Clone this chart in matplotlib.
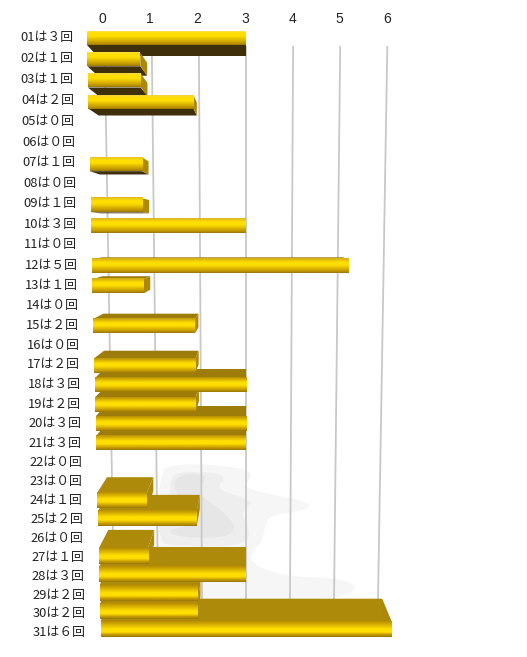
#!/usr/bin/env python3
import matplotlib
matplotlib.use('Agg')  # no GUI backend
import matplotlib.pyplot as plt
import numpy as np
from matplotlib.colors import to_rgb
from matplotlib.patches import Polygon

plt.rcParams['font.family'] = ['Noto Sans CJK JP', 'DejaVu Sans']

# data
days = ["%02d" % d for d in range(1, 32)]
counts = [3, 1, 1, 2, 0, 0, 1, 0, 1, 3, 0, 5, 1, 0, 2, 0,
          2, 3, 2, 3, 3, 0, 0, 1, 2, 0, 1, 3, 2, 2, 6]
value_ticks = [0, 1, 2, 3, 4, 5, 6]

# gray smudge behind the bars (decoration on the back wall)
smudge_outer = [(158, 472), (173, 465), (203, 464), (240, 468), (253, 473), (247, 483),
                (245, 488), (273, 495), (300, 500), (313, 506), (297, 512), (270, 515),
                (265, 525), (263, 540), (250, 555), (253, 563), (270, 572), (297, 577),
                (337, 578), (358, 586), (347, 595), (330, 599), (247, 600), (158, 600)]
smudge_mid = [(170, 478), (180, 472), (210, 472), (227, 477), (215, 488), (240, 497),
              (254, 503), (240, 512), (250, 530), (247, 542), (223, 547), (173, 545),
              (160, 543), (158, 505), (170, 498)]
smudge_inner = [(172, 482), (185, 473), (208, 475), (200, 488), (203, 498), (222, 510),
                (237, 528), (227, 537), (193, 538), (173, 535), (168, 530), (193, 525),
                (180, 500)]

# fake perspective, everything in pixels of the final image
X_FIX = 246      # value 3 stays at the same x in all planes
HORIZON = 228
DEPTH_Y = 0.058
DEPTH_X = 0.935


def front_x(value, i):
    scale = 53 - 4.5 * i / 30
    return X_FIX + (value - 3) * scale


def wall_x(value, y):
    scale = 47.1 - (y - 47) * 3.1 / 553
    return X_FIX + (value - 3) * scale


def bar_bottom(i):
    return 45 + 21.3 * i - 0.108 * i * (i - 1) / 2


def label_y(i):
    return 37 + 21.2 * i - 0.094 * i * (i - 1) / 2


def back_point(x, y):
    return X_FIX + (x - X_FIX) * DEPTH_X, y + (HORIZON - y) * DEPTH_Y


def smooth(points, rounds=3):
    # corner cutting so the smudge has no hard corners
    pts = np.array(points, dtype=float)
    for _ in range(rounds):
        nxt = np.roll(pts, -1, axis=0)
        pts = np.column_stack([0.75 * pts + 0.25 * nxt, 0.25 * pts + 0.75 * nxt]).reshape(-1, 2)
    return pts


def face_gradient(i):
    t = i / 30
    mix = min(1, t * 1.8)
    peak = 0.25 + 0.35 * t
    top = np.array(to_rgb('#FFE24A')) * (1 - mix) + np.array(to_rgb('#B88E00')) * mix
    stops = [0, peak - 0.1, peak + 0.1, 0.85, 0.95, 1]
    colors = [top, to_rgb('#FFDE00'), to_rgb('#FFDE00'), to_rgb('#C49A00'), to_rgb('#AC8600'), to_rgb('#94760F')]
    pos = np.linspace(0, 1, 40)
    return np.array([[np.interp(p, stops, [c[k] for c in colors]) for k in range(3)] for p in pos])[:, None, :]


def draw_bar(ax, i, value, z):
    bottom = bar_bottom(i)
    top = bottom - (13.5 + 2 * i / 30)
    left = front_x(0, i)
    right = front_x(value, i)

    # top or bottom face, whichever the viewer can see
    if top > HORIZON:
        bl, br = back_point(left, top), back_point(right, top)
        shade = '#AE8A0A' if i >= 22 else '#9E7C0A'
        ax.add_patch(Polygon([(left, top), (right, top), br, bl], fc=shade, ec='none', zorder=z))
    elif bottom < HORIZON:
        bl, br = back_point(left, bottom), back_point(right, bottom)
        ax.add_patch(Polygon([(left, bottom), (right, bottom), br, bl], fc='#3F2F0A', ec='none', zorder=z))

    # right end
    rt, rb = back_point(right, top), back_point(right, bottom)
    ax.add_patch(Polygon([(right, top), rt, rb, (right, bottom)], fc='#AC880C', ec='none', zorder=z + 0.1))

    # front with the shiny band
    ax.imshow(face_gradient(i), extent=(left, right, bottom, top), aspect='auto',
              interpolation='bilinear', zorder=z + 0.2)


fig = plt.figure(figsize=(5.27, 6.57), dpi=100)
ax = fig.add_axes([0, 0, 1, 1])

# back wall
for pts, col in [(smudge_outer, '#F6F6F6'), (smudge_mid, '#EEEEEE'), (smudge_inner, '#E6E6E6')]:
    ax.add_patch(Polygon(smooth(pts), fc=col, ec='none', zorder=0.5))

for v in value_ticks:
    ax.plot([wall_x(v, 47), wall_x(v, 600)], [47, 600], color='#C8C8C8', lw=1.3, zorder=0.8)
    ax.text(wall_x(v, 47) - 1 + 0.3 * (v - 3), 19, str(v), fontsize=10, ha='center', va='center',
            color='#222222', family=['Liberation Sans', 'DejaVu Sans'])

# outer bars first, the ones near the horizon end up on top
order = [i for i in range(len(counts)) if bar_bottom(i) < HORIZON]
order += [i for i in range(len(counts) - 1, -1, -1) if bar_bottom(i) >= HORIZON]
for n, i in enumerate(order):
    if counts[i] > 0:
        draw_bar(ax, i, counts[i], 1 + n)

# day labels
full_digits = "０１２３４５６７８９"
for i, (day, c) in enumerate(zip(days, counts)):
    ax.text(20 + i * 13 / 30, label_y(i), f"{day}は{full_digits[c]}回", fontsize=9.3,
            ha='left', va='center', color='#222222')

ax.set_xlim(0, 527)
ax.set_ylim(657, 0)
ax.axis('off')

plt.savefig('out.png', dpi=100, facecolor='white')
plt.close()
